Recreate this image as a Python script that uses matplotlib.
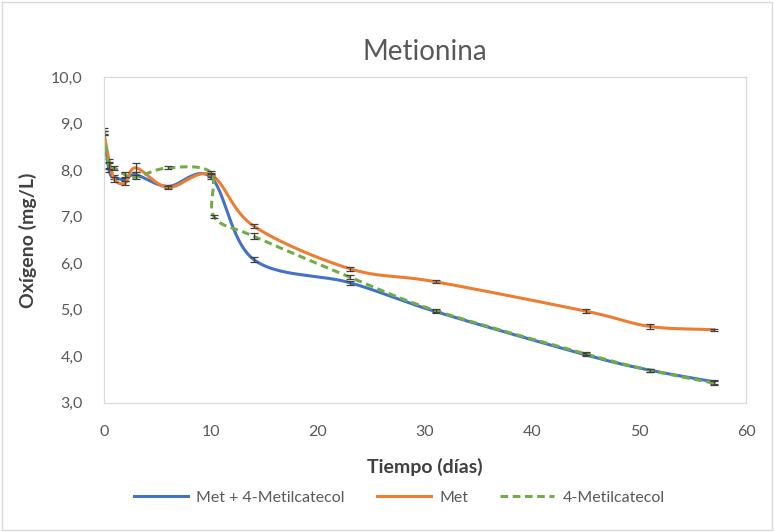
import numpy as np
import matplotlib
matplotlib.use("Agg")
import matplotlib.pyplot as plt

# datos
dias = [0, 0.5, 1, 2, 3, 6, 10, 14, 23, 31, 45, 51, 57]
met_4mc = [8.84, 8.0, 7.85, 7.8, 7.9, 7.65, 7.85, 6.08, 5.58, 4.96, 4.03, 3.7, 3.45]
met_4mc_err = [0.06, 0.05, 0.05, 0.04, 0.05, 0.03, 0.04, 0.05, 0.04, 0.04, 0.03, 0.03, 0.04]
met = [8.8, 8.2, 7.8, 7.72, 8.05, 7.63, 7.9, 6.8, 5.88, 5.6, 4.97, 4.64, 4.57]
met_err = [0.05, 0.05, 0.05, 0.04, 0.1, 0.03, 0.04, 0.05, 0.04, 0.03, 0.04, 0.06, 0.02]
dias_4mc = [0, 0.5, 1, 2, 3, 6, 10, 10.3, 14, 23, 31, 45, 51, 57]
mc = [8.8, 8.1, 8.05, 7.9, 7.85, 8.05, 7.95, 7.0, 6.58, 5.7, 4.98, 4.05, 3.7, 3.42]
mc_err = [0.05, 0.08, 0.05, 0.05, 0.05, 0.03, 0.04, 0.03, 0.06, 0.05, 0.04, 0.03, 0.03, 0.04]

series = [
    ("Met + 4-Metilcatecol", dias, met_4mc, met_4mc_err, "#4472C4", "-"),
    ("Met", dias, met, met_err, "#ED7D31", "-"),
    ("4-Metilcatecol", dias_4mc, mc, mc_err, "#70AD47", "--"),
]


def smooth(x, y, n=30):
    # curva suavizada tipo Excel (Catmull-Rom)
    x = np.asarray(x, float)
    y = np.asarray(y, float)
    px = np.concatenate([[2 * x[0] - x[1]], x, [2 * x[-1] - x[-2]]])
    py = np.concatenate([[2 * y[0] - y[1]], y, [2 * y[-1] - y[-2]]])
    xs, ys = [], []
    t = np.linspace(0, 1, n)
    for i in range(1, len(px) - 2):
        p0x, p1x, p2x, p3x = px[i - 1:i + 3]
        p0y, p1y, p2y, p3y = py[i - 1:i + 3]
        # control points for bezier
        c1x = p1x + (p2x - p0x) / 6
        c1y = p1y + (p2y - p0y) / 6
        c2x = p2x - (p3x - p1x) / 6
        c2y = p2y - (p3y - p1y) / 6
        bx = (1 - t) ** 3 * p1x + 3 * (1 - t) ** 2 * t * c1x + 3 * (1 - t) * t ** 2 * c2x + t ** 3 * p2x
        by = (1 - t) ** 3 * p1y + 3 * (1 - t) ** 2 * t * c1y + 3 * (1 - t) * t ** 2 * c2y + t ** 3 * p2y
        xs.extend(bx)
        ys.extend(by)
    return np.array(xs), np.array(ys)


plt.rcParams['font.family'] = ['Lato', 'DejaVu Sans']

fig = plt.figure(figsize=(7.74, 5.32), dpi=100)
ax = fig.add_axes([0.134, 0.243, 0.830, 0.612])

for name, x, y, err, color, ls in series:
    sx, sy = smooth(x, y)
    ax.plot(sx, sy, color=color, linestyle=ls, linewidth=2.2, label=name,
            dashes=(2.5, 1.5) if ls == "--" else (None, None))
    ax.errorbar(x, y, yerr=err, fmt="none", ecolor="#404040", elinewidth=0.9,
                capsize=3, capthick=0.9)

ax.set_xlim(0, 60)
ax.set_ylim(3, 10)
ax.set_xticks(range(0, 61, 10))
ax.set_yticks(np.arange(3, 10.01, 1))
ax.set_yticklabels([f"{v:.1f}".replace(".", ",") for v in np.arange(3, 10.01, 1)])
ax.tick_params(length=0, labelsize=11.5, labelcolor="#595959")
ax.tick_params(axis="x", pad=16)
ax.tick_params(axis="y", pad=15)

for sp in ax.spines.values():
    sp.set_color("#D9D9D9")
    sp.set_linewidth(0.9)

ax.set_title("Metionina", fontsize=20, color="#595959", pad=12)
ax.set_xlabel("Tiempo (días)", fontsize=14, fontweight="bold", color="#404040", labelpad=14)
ax.set_ylabel("Oxígeno (mg/L)", fontsize=14, fontweight="bold", color="#404040", labelpad=10)

ax.legend(loc="upper center", bbox_to_anchor=(0.46, -0.225), ncol=3, frameon=False,
          fontsize=11.5, labelcolor="#595959", handlelength=3.4, handletextpad=0.5,
          columnspacing=2.0)

# borde del area del grafico
fig.patches.append(plt.Rectangle((0.003, 0.003), 0.994, 0.994, transform=fig.transFigure,
                                 fill=False, edgecolor="#D9D9D9", linewidth=1))

fig.savefig("out.png", dpi=100)
